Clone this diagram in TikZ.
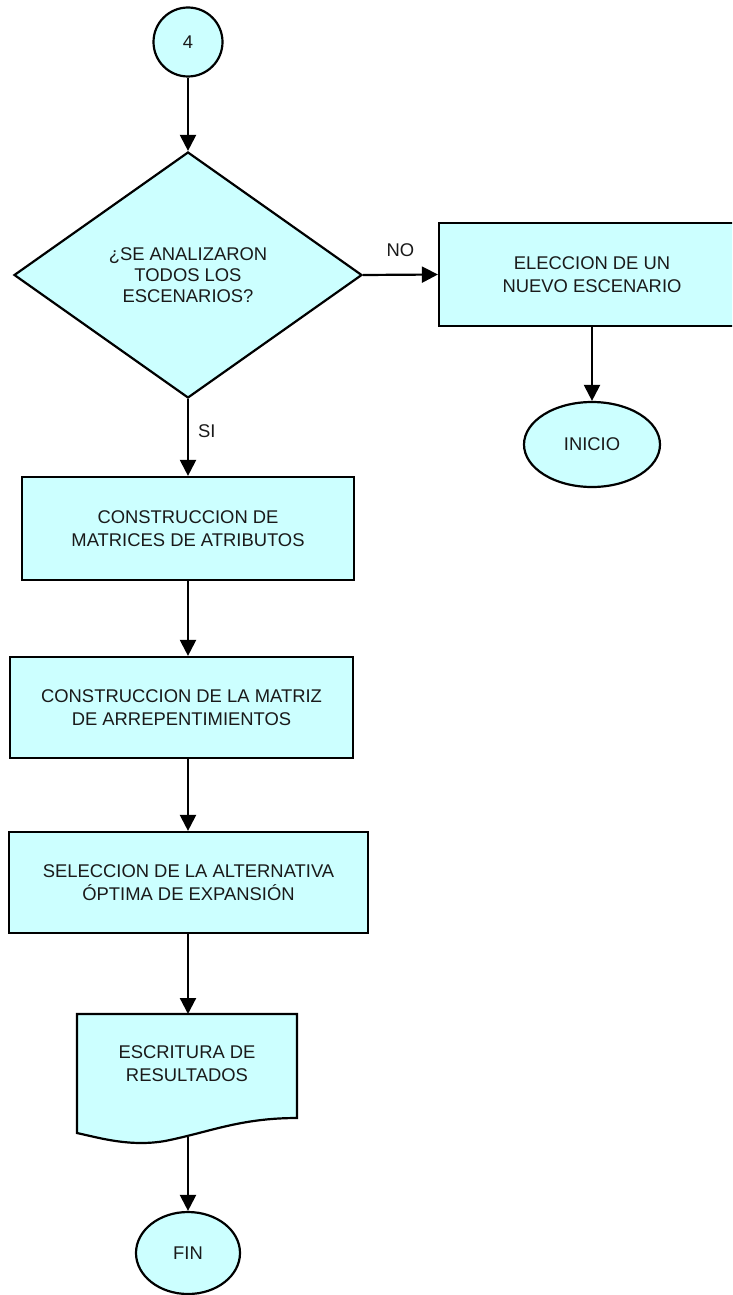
\documentclass[tikz,border=0pt]{standalone}
\usepackage{fontspec}
\setmainfont{Liberation Sans}
\usetikzlibrary{shapes.geometric,arrows.meta}
\definecolor{flowfill}{HTML}{CCFFFF}
\definecolor{inktext}{HTML}{1A1A1A}
\begin{document}
\begin{tikzpicture}[x=1pt,y=-1pt,
  every node/.style={font=\fontsize{18.4}{23}\selectfont, text=inktext, align=center, inner sep=0pt},
  shape base/.style={draw=black, line width=2.2pt, fill=flowfill},
  process/.style={shape base, rectangle},
  terminal/.style={shape base, ellipse},
  connector/.style={shape base, circle},
  decision/.style={shape base, diamond, font=\fontsize{18.4}{21}\selectfont},
  arr/.style={line width=2.2pt, -{Triangle[length=16pt,width=16pt]}},
  lbl/.style={font=\fontsize{18.4}{20}\selectfont}]
\clip (0,0) rectangle (732,1295);
\fill[white] (0,0) rectangle (732,1295);

% connector and decision
\node[connector, minimum size=69pt] (c4) at (188,42) {4};
\node[decision, minimum width=348pt, minimum height=246pt] (dec) at (188,275)
  {¿SE ANALIZARON\\TODOS LOS\\ESCENARIOS?};

% NO branch
\node[process, minimum width=306pt, minimum height=103pt] (elec) at (592,274.5)
  {ELECCION DE UN\\NUEVO ESCENARIO};
\node[terminal, minimum width=136pt, minimum height=85pt] (ini) at (592,444.5) {INICIO};

% SI branch
\node[process, minimum width=332pt, minimum height=103pt] (mat) at (188,528.5)
  {CONSTRUCCION DE\\MATRICES DE ATRIBUTOS};
\node[process, minimum width=343pt, minimum height=101pt] (arr) at (181.5,707.5)
  {CONSTRUCCION DE LA MATRIZ\\DE ARREPENTIMIENTOS};
\node[process, minimum width=359pt, minimum height=101pt] (sel) at (188.5,882.5)
  {SELECCION DE LA ALTERNATIVA\\ÓPTIMA DE EXPANSIÓN};

% document symbol with wavy lower edge
\draw[shape base] (77,1014) -- (297,1014) -- (297,1118)
  .. controls (240,1118) and (210,1132) .. (165,1141)
  .. controls (130,1147) and (100,1138) .. (77,1133) -- cycle;
\node (doc) at (187,1064) {ESCRITURA DE\\RESULTADOS};
\coordinate (docbot) at (188,1137);
\coordinate (doctop) at (188,1014);

\node[terminal, minimum width=104pt, minimum height=82pt] (fin) at (188,1253) {FIN};

% connectors
\draw[arr] (c4.south) -- (dec.north);
\draw[arr] (dec.east) -- node[lbl, pos=0.5, above=17pt] {NO} (elec.west);
\draw[arr] (elec.south) -- (ini.north);
\draw[arr] (dec.south) -- node[lbl, pos=0.42, right=9pt] {SI} (mat.north);
\draw[arr] (mat.south) -- (mat.south |- arr.north);
\draw[arr] (mat.south |- arr.south) -- (sel.north -| mat.south);
\draw[arr] (sel.south -| doctop) -- (doctop);
\draw[arr] (docbot) -- (docbot |- fin.north);
\end{tikzpicture}
\end{document}
